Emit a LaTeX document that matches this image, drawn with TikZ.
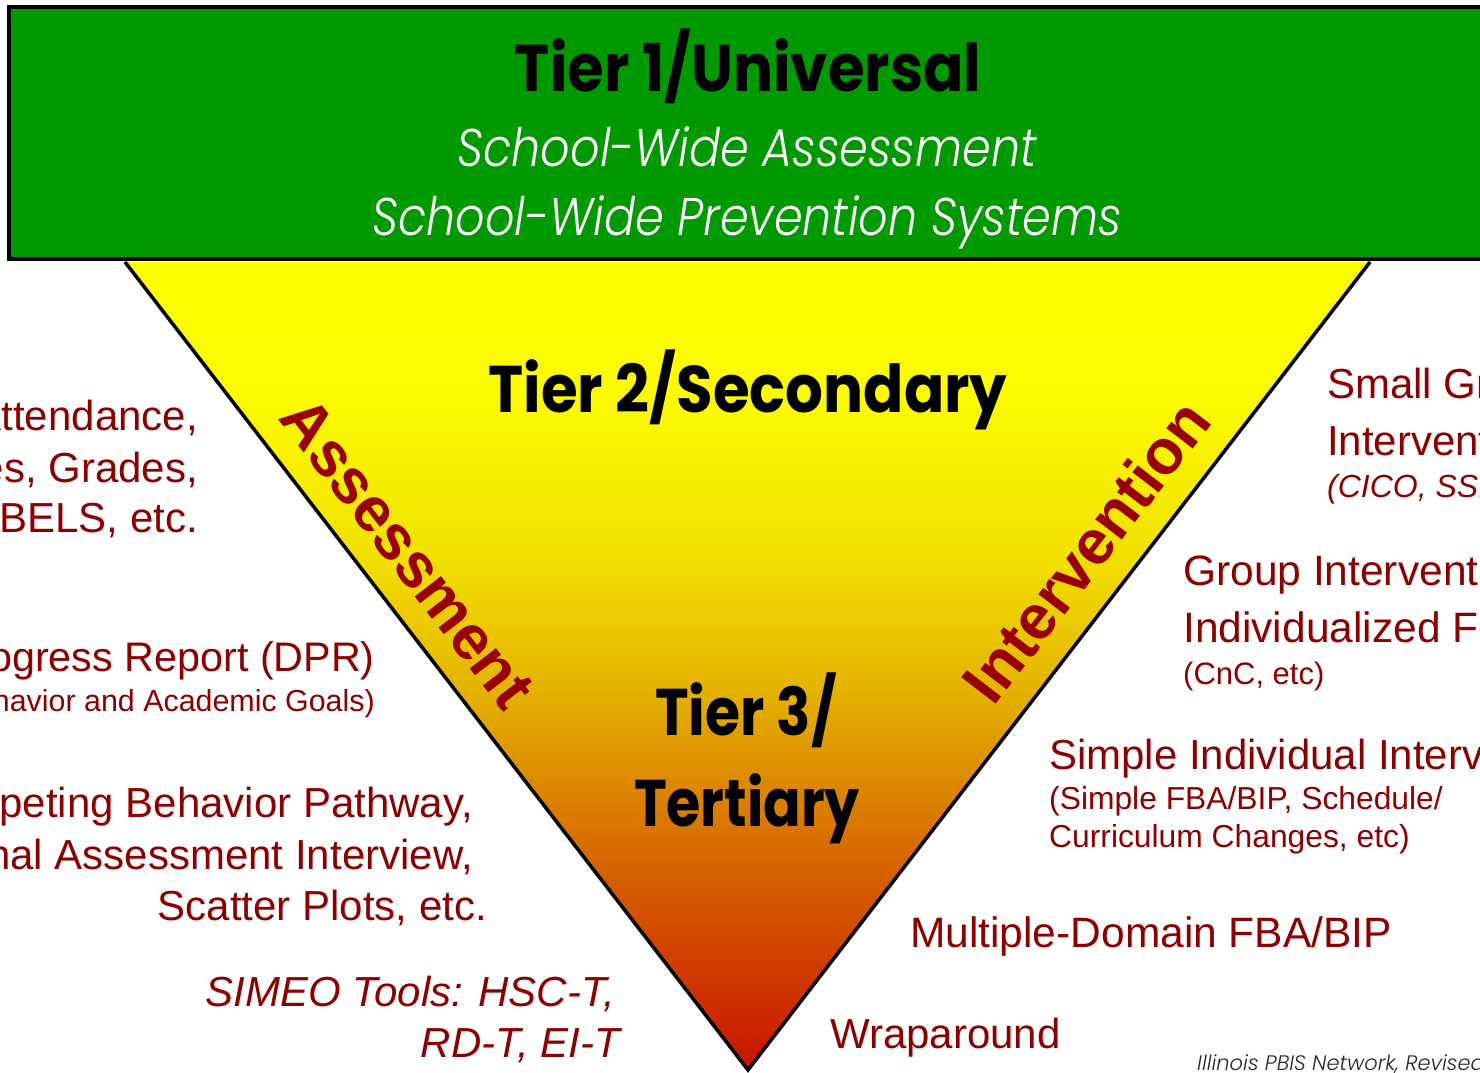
\documentclass[tikz,border=0pt]{standalone}
\usepackage{fontspec}
\setmainfont{Liberation Sans}
\newfontfamily\gothic{Poppins}
\newfontfamily\gothiclight{Poppins}[UprightFont=* Light, ItalicFont=* Light Italic]
\definecolor{tgreen}{RGB}{0,153,0}
\definecolor{tred}{RGB}{140,0,0}
\definecolor{rotred}{RGB}{153,0,0}
\definecolor{foot}{RGB}{40,40,40}
\definecolor{tb0}{RGB}{200,20,0}
\definecolor{tb1}{RGB}{205,45,0}
\definecolor{tb2}{RGB}{215,105,0}
\definecolor{tb3}{RGB}{228,175,0}
\definecolor{tb4}{RGB}{242,225,0}
\definecolor{tb5}{RGB}{252,250,0}
\definecolor{tb6}{RGB}{255,255,0}
\pgfdeclareverticalshading{trishade}{100bp}{color(0bp)=(tb0); color(25bp)=(tb0); color(29bp)=(tb1); color(38.5bp)=(tb2); color(48bp)=(tb3); color(57bp)=(tb4); color(66.5bp)=(tb5); color(75bp)=(tb6); color(100bp)=(tb6)}
\tikzset{
  lbl/.style={inner sep=0pt, text=tred, font=\fontsize{42}{50}\selectfont},
  sml/.style={inner sep=0pt, text=tred, font=\fontsize{31}{37}\selectfont},
  tiertitle/.style={inner sep=0pt, text=black, font=\gothic\bfseries\fontsize{66}{76}\selectfont},
  tiersub/.style={inner sep=0pt, text=white, xscale=0.87, font=\gothiclight\itshape\fontsize{53}{60}\selectfont},
  sidelabel/.style={inner sep=0pt, text=rotred, font=\bfseries\fontsize{63}{70}\selectfont},
  edge/.style={draw=black, line width=3.5pt, line join=miter}
}
\begin{document}
\begin{tikzpicture}[x=1pt,y=-1pt]
\useasboundingbox (0,0) rectangle (1480,1073);
\clip (0,0) rectangle (1480,1073);
\fill[white] (0,0) rectangle (1480,1073);
% triangle
\coordinate (tl) at (125,262);
\coordinate (tr) at (1370,262);
\coordinate (tip) at (748,1070);
\shade[shading=trishade] (tl) -- (tr) -- (tip) -- cycle;
\draw[edge] (tl) -- (tip) -- (tr);
% top band
\draw[fill=tgreen, line width=4pt] (8.5,7) rectangle (1495,259);
\node[tiertitle, xscale=0.9, anchor=base] (t1) at (748,92) {Tier 1/Universal};
\node[tiersub, anchor=base] (t1a) at (747,166) {School-Wide Assessment};
\node[tiersub, anchor=base] (t1b) at (747,235) {School-Wide Prevention Systems};
% tiers 2 and 3
\node[tiertitle, xscale=0.9, anchor=base] (t2) at (748,412) {Tier 2/Secondary};
\node[tiertitle, xscale=0.86, anchor=base] (t3a) at (746,735) {Tier 3/};
\node[tiertitle, xscale=0.84, anchor=base] (t3b) at (747,826) {Tertiary};
% rotated labels
\node[sidelabel, rotate=-52.4] (assess) at (408,553) {Assessment};
\node[sidelabel, rotate=52.4] (interv) at (1086,551) {Intervention};
% left texts
\node[lbl, anchor=base east] (l1) at (198,430) {Attendance,};
\node[lbl, anchor=base east] (l2) at (198,482) {Tardies, Grades,};
\node[lbl, anchor=base east] (l3) at (198,532) {DIBELS, etc.};
\node[lbl, font=\fontsize{41.3}{50}\selectfont, anchor=base east] (l4) at (375,671) {Daily Progress Report (DPR)};
\node[sml, font=\fontsize{30.4}{37}\selectfont, anchor=base east] (l5) at (375,711) {(Behavior and Academic Goals)};
\node[lbl, anchor=base east] (l6) at (473,817) {Competing Behavior Pathway,};
\node[lbl, anchor=base east] (l7) at (473,869) {Functional Assessment Interview,};
\node[lbl, anchor=base east] (l8) at (487,920) {Scatter Plots, etc.};
\node[lbl, font=\itshape\fontsize{42}{50}\selectfont, anchor=base east] (l9) at (615,1006) {SIMEO Tools: HSC-T,};
\node[lbl, font=\itshape\fontsize{42}{50}\selectfont, anchor=base east] (l10) at (620,1057) {RD-T, EI-T};
% right texts
\node[lbl, anchor=base west] (r1) at (1327,398) {Small Group};
\node[lbl, anchor=base west] (r2) at (1327,455) {Interventions};
\node[sml, font=\itshape\fontsize{32}{37}\selectfont, anchor=base west] (r3) at (1327,497) {(CICO, SSI, etc)};
\node[lbl, font=\fontsize{42.5}{50}\selectfont, anchor=base west] (r4) at (1183,585) {Group Intervention with};
\node[lbl, font=\fontsize{42.5}{50}\selectfont, anchor=base west] (r5) at (1183,642) {Individualized Focus};
\node[sml, anchor=base west] (r6) at (1183,684) {(CnC, etc)};
\node[lbl, anchor=base west] (r7) at (1049,769) {Simple Individual Interventions};
\node[sml, font=\fontsize{31.8}{37}\selectfont, anchor=base west] (r8) at (1049,809) {(Simple FBA/BIP, Schedule/};
\node[sml, font=\fontsize{31.8}{37}\selectfont, anchor=base west] (r9) at (1049,847) {Curriculum Changes, etc)};
\node[lbl, font=\fontsize{42.5}{50}\selectfont, anchor=base west] (r10) at (910,947) {Multiple-Domain FBA/BIP};
\node[lbl, anchor=base west] (r11) at (830,1048) {Wraparound};
\node[inner sep=0pt, text=foot, font=\gothiclight\itshape\fontsize{21}{24}\selectfont, anchor=base west] (src) at (1197,1070) {Illinois PBIS Network, Revised May 15, 2008};
\end{tikzpicture}
\end{document}
